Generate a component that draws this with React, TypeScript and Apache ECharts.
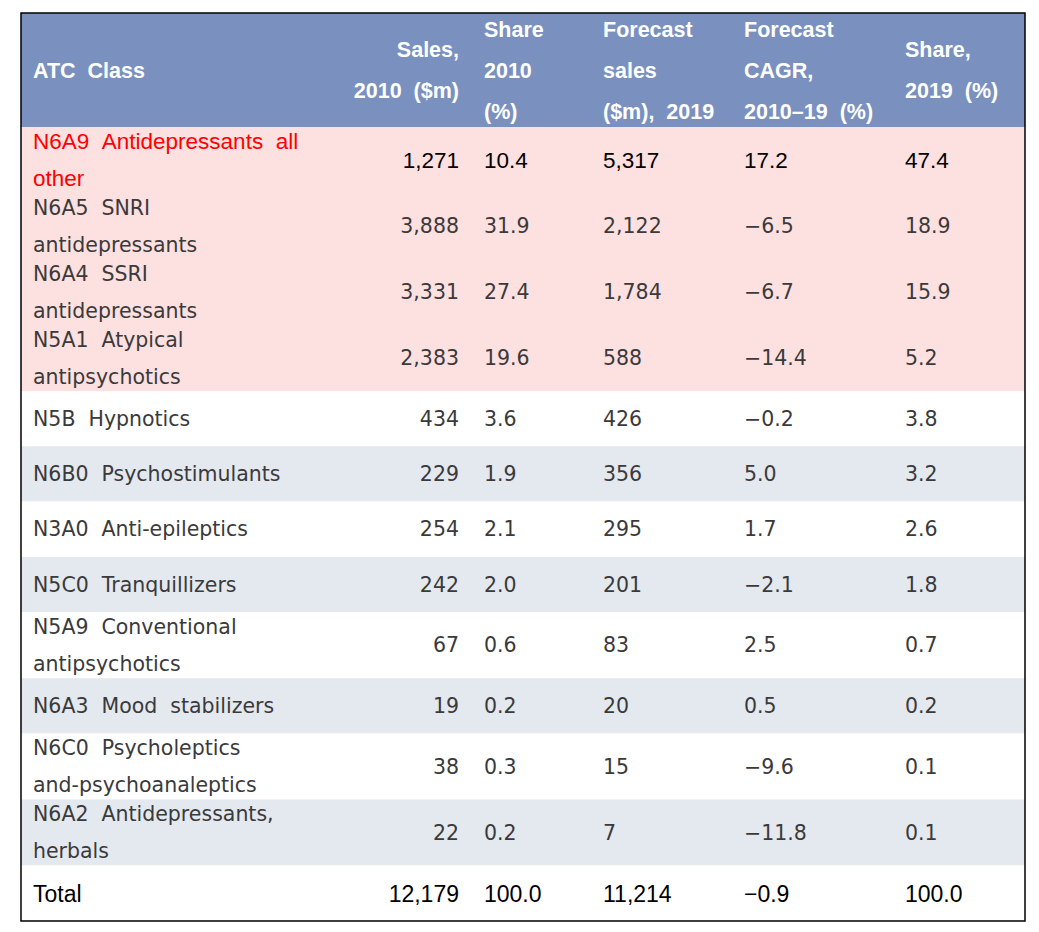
import React, { useEffect, useRef } from "react";
import * as echarts from "echarts";

// ---- data ----
const headerLabels = [
  "ATC  Class",
  "Sales,\n2010  ($m)",
  "Share\n2010\n(%)",
  "Forecast\nsales\n($m),  2019",
  "Forecast\nCAGR,\n2010–19  (%)",
  "Share,\n2019  (%)",
];
const categories = [
  "N6A9  Antidepressants  all\nother",
  "N6A5  SNRI\nantidepressants",
  "N6A4  SSRI\nantidepressants",
  "N5A1  Atypical\nantipsychotics",
  "N5B  Hypnotics",
  "N6B0  Psychostimulants",
  "N3A0  Anti-epileptics",
  "N5C0  Tranquillizers",
  "N5A9  Conventional\nantipsychotics",
  "N6A3  Mood  stabilizers",
  "N6C0  Psycholeptics\nand-psychoanaleptics",
  "N6A2  Antidepressants,\nherbals",
];
const sales2010 = [1271, 3888, 3331, 2383, 434, 229, 254, 242, 67, 19, 38, 22];
const share2010 = [10.4, 31.9, 27.4, 19.6, 3.6, 1.9, 2.1, 2.0, 0.6, 0.2, 0.3, 0.2];
const forecastSales2019 = [5317, 2122, 1784, 588, 426, 356, 295, 201, 83, 20, 15, 7];
const cagr2010to19 = [17.2, -6.5, -6.7, -14.4, -0.2, 5.0, 1.7, -2.1, 2.5, 0.5, -9.6, -11.8];
const share2019 = [47.4, 18.9, 15.9, 5.2, 3.8, 3.2, 2.6, 1.8, 0.7, 0.2, 0.1, 0.1];
const totalLabel = "Total";
const totalValues = { sales2010: 12179, share2010: 100.0, forecast: 11214, cagr: -0.9, share2019: 100.0 };
const highlightedRows = 4; // first rows shaded pink

// ---- formatting helpers ----
const fmtInt = (v: number) => v.toLocaleString("en-US");
const fmtDec = (v: number) => (v < 0 ? "\u2212" : "") + Math.abs(v).toFixed(1);

export default function App() {
  const ref = useRef<HTMLDivElement>(null);

  useEffect(() => {
    document.body.style.margin = "0";
    const chart = echarts.init(ref.current!, null, { renderer: "svg" });

    const L = 21, T = 13, R = 1025;
    const W = R - L;
    const headerBottom = 127;
    const doubleH = 66;
    const singleH = 55.3;
    const totalH = 55.5;

    const colLabel = 33;
    const colSalesRight = 459;
    const colShare = 484;
    const colForecast = 603;
    const colCagr = 744;
    const colShare19 = 905;

    const headerBg = "#7a91c0";
    const pinkBg = "#fde0e0";
    const grayBg = "#e4e8ef";
    const whiteBg = "#ffffff";
    const bodyColor = "#3a3a3a";

    const bodyFont = { fontFamily: "DejaVu Sans", fontSize: 20.5, fontWeight: "normal" as const };
    const firstFont = { fontFamily: "Liberation Sans, Arial", fontSize: 22.5, fontWeight: "normal" as const };

    const els: any[] = [];

    // header background
    els.push({ type: "rect", shape: { x: L, y: T, width: W, height: headerBottom - T }, style: { fill: headerBg }, silent: true });

    const headerX = [colLabel, colSalesRight, colShare, colForecast, colCagr, colShare19];
    const headerAlign = ["left", "right", "left", "left", "left", "left"];
    const headerMid = (T + headerBottom) / 2 + 0.5;
    headerLabels.forEach((h, i) => {
      els.push({
        type: "text",
        x: headerX[i],
        y: headerMid,
        silent: true,
        style: {
          text: h.replace(/  /g, " \u00a0"),
          fill: "#ffffff",
          fontFamily: "Liberation Sans, Arial",
          fontWeight: "bold",
          fontSize: 21.5,
          lineHeight: 41,
          align: headerAlign[i],
          verticalAlign: "middle",
        },
      });
    });

    // body rows
    let y = headerBottom;
    categories.forEach((cat, i) => {
      const twoLines = cat.includes("\n");
      const h = twoLines ? doubleH : singleH;
      const bg = i < highlightedRows ? pinkBg : (i - highlightedRows) % 2 === 0 ? whiteBg : grayBg;
      els.push({ type: "rect", shape: { x: L, y, width: W, height: h }, style: { fill: bg }, silent: true });
      const mid = y + h / 2;
      const isFirst = i === 0;
      const labelFont = isFirst ? firstFont : bodyFont;
      els.push({
        type: "text",
        x: colLabel,
        y: mid,
        silent: true,
        style: {
          text: cat.replace(/  /g, " \u00a0"),
          fill: isFirst ? "#ff0000" : bodyColor,
          ...labelFont,
          lineHeight: 37,
          align: "left",
          verticalAlign: "middle",
        },
      });
      const valFont = isFirst ? firstFont : bodyFont;
      const valColor = isFirst ? "#000000" : bodyColor;
      const cells: [number, string, string][] = [
        [colSalesRight, fmtInt(sales2010[i]), "right"],
        [colShare, fmtDec(share2010[i]), "left"],
        [colForecast, fmtInt(forecastSales2019[i]), "left"],
        [colCagr, fmtDec(cagr2010to19[i]), "left"],
        [colShare19, fmtDec(share2019[i]), "left"],
      ];
      cells.forEach(([cx, txt, al]) => {
        els.push({
          type: "text",
          x: cx,
          y: mid,
          silent: true,
          style: { text: txt, fill: valColor, ...valFont, align: al, verticalAlign: "middle" },
        });
      });
      y += h;
    });

    // total row
    const totalTop = y;
    const totalBottom = totalTop + totalH;
    els.push({ type: "rect", shape: { x: L, y: totalTop, width: W, height: totalH }, style: { fill: whiteBg }, silent: true });
    const tMid = totalTop + totalH / 2 + 0.5;
    const totalFont = { fontFamily: "Liberation Sans, Arial", fontSize: 23, fontWeight: "normal" as const };
    const totalCells: [number, string, string][] = [
      [colLabel, totalLabel, "left"],
      [colSalesRight, fmtInt(totalValues.sales2010), "right"],
      [colShare, fmtDec(totalValues.share2010), "left"],
      [colForecast, fmtInt(totalValues.forecast), "left"],
      [colCagr, fmtDec(totalValues.cagr), "left"],
      [colShare19, fmtDec(totalValues.share2019), "left"],
    ];
    totalCells.forEach(([cx, txt, al]) => {
      els.push({
        type: "text",
        x: cx,
        y: tMid,
        silent: true,
        style: { text: txt, fill: "#000000", ...totalFont, align: al, verticalAlign: "middle" },
      });
    });

    // outer border
    els.push({
      type: "rect",
      shape: { x: L, y: T, width: W, height: totalBottom - T },
      style: { fill: "none", stroke: "#000000", lineWidth: 1.5 },
      silent: true,
      z: 100,
    });

    chart.setOption({
      animation: false,
      backgroundColor: "#ffffff",
      graphic: { elements: els },
    });

    return () => chart.dispose();
  }, []);

  return <div ref={ref} style={{ position: "absolute", left: 0, top: 0, width: 1039, height: 932 }} />;
}
